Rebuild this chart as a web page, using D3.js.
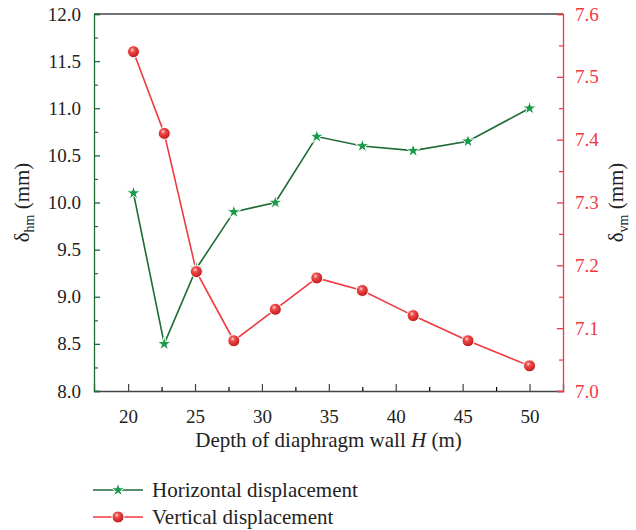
<!DOCTYPE html>
<html>
<head>
<meta charset="utf-8">
<script src="https://cdn.jsdelivr.net/npm/d3@7"></script>
<style>
  body { margin: 0; background: #fff; }
  svg { font-family: "Liberation Serif", "DejaVu Serif", serif; }
</style>
</head>
<body>
<div id="chart"></div>
<script>
const depth = [20.4, 22.7, 25.1, 27.9, 31.0, 34.1, 37.5, 41.3, 45.4, 50.0];
const horizontal = [10.1, 8.5, 9.3, 9.9, 10.0, 10.7, 10.6, 10.55, 10.65, 11.0];
const vertical = [7.54, 7.41, 7.19, 7.08, 7.13, 7.18, 7.16, 7.12, 7.08, 7.04];
const xTicks = [20, 25, 30, 35, 40, 45, 50];
const leftTicks = [8.0, 8.5, 9.0, 9.5, 10.0, 10.5, 11.0, 11.5, 12.0];
const rightTicks = [7.0, 7.1, 7.2, 7.3, 7.4, 7.5, 7.6];
const seriesNames = ["Horizontal displacement", "Vertical displacement"];

const width = 636, height = 530;
const margin = { top: 14, right: 73, bottom: 139, left: 94 };
const w = width - margin.left - margin.right;
const h = height - margin.top - margin.bottom;

const green = "#1e6b34", greenMark = "#1a9a48", red = "#f0393f";

const svg = d3.select("#chart").append("svg").attr("width", width).attr("height", height);

const defs = svg.append("defs");
const grad = defs.append("radialGradient").attr("id", "ball").attr("cx", "40%").attr("cy", "35%").attr("r", "65%");
grad.append("stop").attr("offset", "0%").attr("stop-color", "#ffd6d6");
grad.append("stop").attr("offset", "30%").attr("stop-color", "#f04a4a");
grad.append("stop").attr("offset", "100%").attr("stop-color", "#c01818");

const x = d3.scaleLinear().domain([17.45, 52.5]).range([0, w]);
const yL = d3.scaleLinear().domain([8, 12]).range([h, 0]);
const yR = d3.scaleLinear().domain([7.0, 7.6]).range([h, 0]);

const g = svg.append("g").attr("transform", `translate(${margin.left},${margin.top})`);

// top border
g.append("line").attr("x1", 0).attr("x2", w).attr("y1", 0).attr("y2", 0)
  .attr("stroke", "#444").attr("stroke-width", 1.3);

// bottom axis (inward ticks)
const xAx = g.append("g").attr("transform", `translate(0,${h})`)
  .call(d3.axisBottom(x).tickValues(xTicks).tickSize(-7).tickPadding(19).tickFormat(d3.format("d")));
g.append("g").attr("transform", `translate(0,${h})`)
  .call(d3.axisBottom(x).tickValues(d3.range(22.5, 52.5, 5)).tickSize(-4).tickFormat(""))
  .call(a => a.select(".domain").remove());

// left axis
const lAx = g.append("g")
  .call(d3.axisLeft(yL).tickValues(leftTicks).tickSize(-6).tickPadding(13).tickFormat(d3.format(".1f")));
g.append("g")
  .call(d3.axisLeft(yL).tickValues(d3.range(8.25, 12, 0.5)).tickSize(-4).tickFormat(""))
  .attr("class", "lminor").call(a => a.select(".domain").remove());

// right axis
const rAx = g.append("g").attr("transform", `translate(${w},0)`)
  .call(d3.axisRight(yR).tickValues(rightTicks).tickSize(-6).tickPadding(12).tickFormat(d3.format(".1f")));
g.append("g").attr("transform", `translate(${w},0)`)
  .call(d3.axisRight(yR).tickValues(d3.range(7.05, 7.6, 0.1)).tickSize(-4).tickFormat(""))
  .attr("class", "rminor").call(a => a.select(".domain").remove());

g.selectAll(".tick text").attr("font-size", 19).attr("font-family", "Liberation Serif, serif");
xAx.selectAll("path,line").attr("stroke", "#444").attr("stroke-width", 1.3);
xAx.selectAll("text").attr("fill", "#222");
g.selectAll(".tick line").attr("stroke-width", 1.2);
lAx.selectAll("path,line").attr("stroke", green).attr("stroke-width", 1.3);
g.select(".lminor").selectAll("line").attr("stroke", green);
lAx.selectAll("text").attr("fill", "#222");
rAx.selectAll("path,line").attr("stroke", red).attr("stroke-width", 1.3);
g.select(".rminor").selectAll("line").attr("stroke", red);
rAx.selectAll("text").attr("fill", red);
g.selectAll(".domain").attr("stroke-width", 1.3);

// lines
const lineH = d3.line().x((d, i) => x(depth[i])).y(d => yL(d));
const lineV = d3.line().x((d, i) => x(depth[i])).y(d => yR(d));

g.append("path").datum(horizontal).attr("d", lineH)
  .attr("fill", "none").attr("stroke", green).attr("stroke-width", 1.6);
g.append("path").datum(vertical).attr("d", lineV)
  .attr("fill", "none").attr("stroke", red).attr("stroke-width", 1.6);

const star = d3.symbol().type(d3.symbolStar).size(60);
g.selectAll(".star").data(horizontal).enter().append("path")
  .attr("class", "star")
  .attr("transform", (d, i) => `translate(${x(depth[i])},${yL(d)})`)
  .attr("d", star).attr("fill", greenMark).attr("stroke", "#fff").attr("stroke-width", 1);

g.selectAll(".ball").data(vertical).enter().append("circle")
  .attr("class", "ball")
  .attr("cx", (d, i) => x(depth[i])).attr("cy", d => yR(d)).attr("r", 6)
  .attr("fill", "url(#ball)").attr("stroke", "#fff").attr("stroke-width", 1);

// axis titles
svg.append("text").attr("x", (margin.left + margin.left + w) / 2).attr("y", 447)
  .attr("text-anchor", "middle").attr("font-size", 21).attr("fill", "#222")
  .html('Depth of diaphragm wall <tspan font-style="italic">H</tspan> (m)');

const lt = svg.append("text").attr("transform", `translate(29,${margin.top + h / 2}) rotate(-90)`)
  .attr("text-anchor", "middle").attr("font-size", 21).attr("fill", "#222");
lt.append("tspan").text("δ");
lt.append("tspan").attr("font-size", 14).attr("dy", 5).text("hm");
lt.append("tspan").attr("dy", -5).text(" (mm)");

const rt = svg.append("text").attr("transform", `translate(623,${margin.top + h / 2}) rotate(-90)`)
  .attr("text-anchor", "middle").attr("font-size", 21).attr("fill", "#222");
rt.append("tspan").text("δ");
rt.append("tspan").attr("font-size", 14).attr("dy", 5).text("vm");
rt.append("tspan").attr("dy", -5).text(" (mm)");

// legend
const legend = svg.append("g").attr("transform", "translate(93,490)");
seriesNames.forEach((name, i) => {
  const row = legend.append("g").attr("transform", `translate(0,${i * 27})`);
  row.append("line").attr("x1", 0).attr("x2", 50).attr("y1", 0).attr("y2", 0)
    .attr("stroke", i === 0 ? green : red).attr("stroke-width", 1.6);
  if (i === 0) {
    row.append("path").attr("d", star).attr("transform", "translate(25,0)")
      .attr("fill", greenMark).attr("stroke", "#fff").attr("stroke-width", 1);
  } else {
    row.append("circle").attr("cx", 25).attr("cy", 0).attr("r", 6)
      .attr("fill", "url(#ball)").attr("stroke", "#fff").attr("stroke-width", 1);
  }
  row.append("text").attr("x", 59).attr("y", 7).attr("font-size", 21).attr("fill", "#222").text(name);
});
</script>
</body>
</html>
